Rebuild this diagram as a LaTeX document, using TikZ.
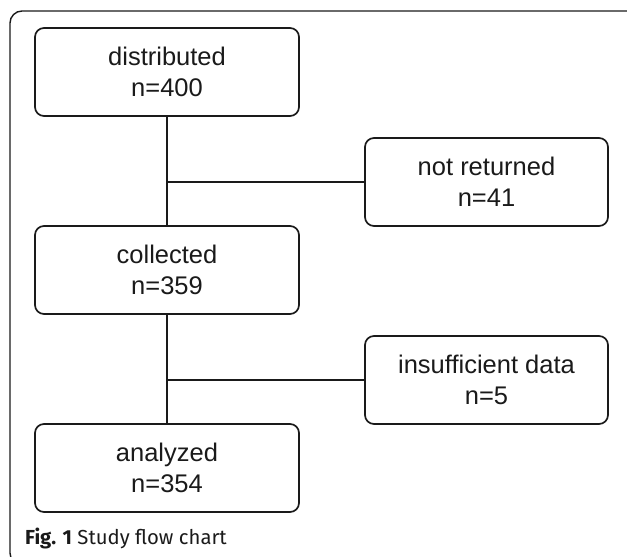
\documentclass[tikz,border=0pt]{standalone}
\usepackage{fontspec}
\setmainfont{Liberation Sans}
\newfontfamily\capfont{Fira Sans}
\definecolor{ink}{HTML}{1A1A1A}
\begin{document}
\begin{tikzpicture}[x=1pt,y=-1pt,
  box/.style={draw=ink, text=ink, rounded corners=9pt, line width=1.7pt,
    minimum height=88pt, align=center,
    font=\fontsize{25.5}{31}\selectfont, inner sep=0pt},
  mainbox/.style={box, minimum width=264pt},
  sidebox/.style={box, minimum width=243pt},
  conn/.style={draw=ink, line width=1.7pt},
  frame/.style={draw=ink, line width=1.4pt, rounded corners=12pt}]
\useasboundingbox (0,0) rectangle (627,557);
\begin{scope}
  \clip (0,0) rectangle (627,557);
  \draw[frame] (638,11) -- (10,11) -- (10,565) -- (638,565);
\end{scope}
\node[mainbox] (dist) at (167,72) {distributed\\n=400};
\node[mainbox] (coll) at (167,270) {collected\\n=359};
\node[mainbox] (anal) at (167,468) {analyzed\\n=354};
\node[sidebox] (nret) at (486.5,182) {not returned\\n=41};
\node[sidebox] (insu) at (486.5,380) {insufficient data\\n=5};
\coordinate (b1) at (167,182);
\coordinate (b2) at (167,380);
\draw[conn] (dist.south) -- (coll.north);
\draw[conn] (coll.south) -- (anal.north);
\draw[conn] (b1) -- (nret.west);
\draw[conn] (b2) -- (insu.west);
\node[anchor=west, inner sep=0pt, text=ink] (cap) at (25,539)
  {\capfont\fontsize{20.3}{23}\selectfont\textbf{Fig. 1} Study flow chart};
\end{tikzpicture}
\end{document}
